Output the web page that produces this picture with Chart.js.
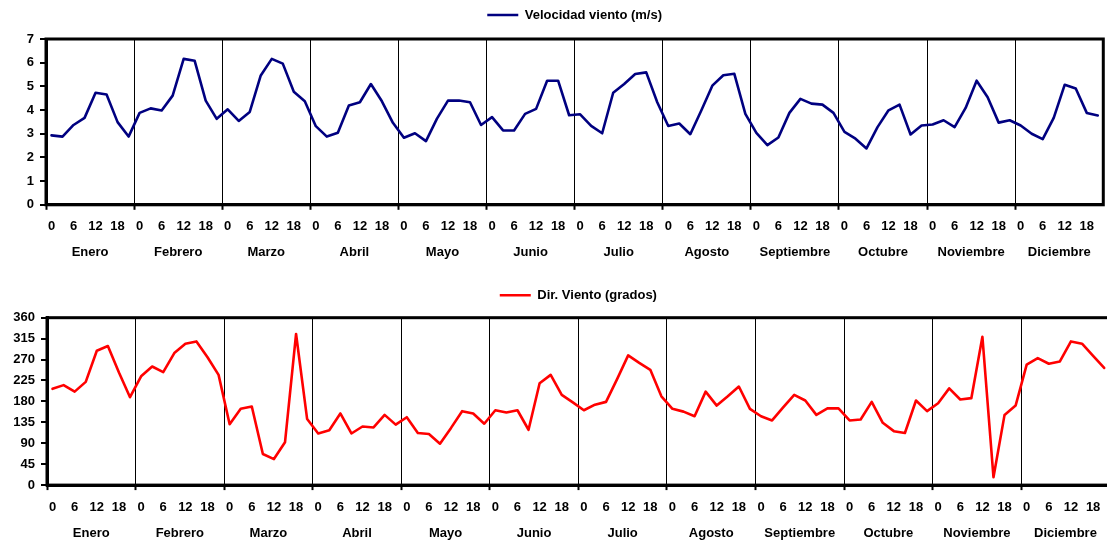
<!DOCTYPE html>
<html>
<head>
<meta charset="utf-8">
<script src="https://cdn.jsdelivr.net/npm/chart.js@4/dist/chart.umd.min.js"></script>
<style>
  html, body { margin: 0; padding: 0; background: #fff; width: 1107px; height: 542px; overflow: hidden; position: relative; }
  #c1 { position: absolute; left: 0; top: 0; }
  #c2 { position: absolute; left: 0; top: 271px; }
</style>
</head>
<body>
<canvas id="c1" width="1107" height="271"></canvas>
<canvas id="c2" width="1114" height="271"></canvas>
<script>
const months = ['Enero','Febrero','Marzo','Abril','Mayo','Junio','Julio','Agosto','Septiembre','Octubre','Noviembre','Diciembre'];
const hours = [0, 3, 6, 9, 12, 15, 18, 21];
const speedTicks = [0, 1, 2, 3, 4, 5, 6, 7];
const dirTicks = [0, 45, 90, 135, 180, 225, 270, 315, 360];
const speedLabel = 'Velocidad viento (m/s)';
const dirLabel = 'Dir. Viento (grados)';

const speed = [
  2.93, 2.88, 3.37, 3.67, 4.73, 4.66, 3.49, 2.88,
  3.88, 4.07, 3.98, 4.61, 6.16, 6.08, 4.40, 3.63,
  4.03, 3.54, 3.92, 5.46, 6.16, 5.96, 4.77, 4.37,
  3.32, 2.88, 3.04, 4.19, 4.33, 5.10, 4.37, 3.46,
  2.83, 3.02, 2.69, 3.64, 4.40, 4.40, 4.33, 3.37,
  3.70, 3.14, 3.14, 3.84, 4.05, 5.24, 5.24, 3.78,
  3.82, 3.33, 3.02, 4.73, 5.10, 5.52, 5.59, 4.33,
  3.33, 3.43, 2.98, 3.98, 5.03, 5.47, 5.53, 3.84,
  3.04, 2.52, 2.84, 3.88, 4.47, 4.27, 4.23, 3.88,
  3.08, 2.79, 2.38, 3.28, 3.99, 4.23, 2.97, 3.35,
  3.39, 3.57, 3.28, 4.09, 5.24, 4.54, 3.47, 3.57,
  3.35, 3.00, 2.77, 3.67, 5.07, 4.91, 3.88, 3.77
];

const direction = [
  207, 215, 201, 222, 289, 299, 242, 189,
  234, 255, 243, 284, 304, 309, 275, 237,
  131, 164, 169, 67, 56, 92, 325, 142,
  111, 118, 154, 111, 126, 124, 151, 130,
  146, 112, 110, 89, 123, 159, 154, 132,
  161, 156, 161, 119, 219, 237, 194, 178,
  161, 173, 179, 228, 279, 263, 248, 191,
  164, 158, 148, 201, 171, 191, 212, 164,
  148, 139, 167, 194, 182, 151, 165, 165,
  139, 141, 179, 134, 116, 112, 182, 159,
  176, 208, 184, 187, 319, 17, 151, 171,
  259, 273, 261, 266, 309, 304, 278, 252
];

const categories = [];
months.forEach(m => hours.forEach(h => categories.push(m + ' ' + h)));

const FONT = { family: '"Liberation Sans", Arial, sans-serif', size: 13, weight: 'bold' };
const perMonth = hours.length;

const framePlugin = {
  id: 'frame',
  afterDraw(chart) {
    const a = chart.chartArea;
    const ctx = chart.ctx;
    ctx.save();
    ctx.strokeStyle = '#000';
    ctx.lineWidth = 3;
    ctx.strokeRect(a.left, a.top, a.right - a.left, a.bottom - a.top);
    ctx.restore();
  }
};

function makeChart(id, label, data, color, ticks, cfg) {
  return new Chart(document.getElementById(id), {
    type: 'line',
    data: {
      labels: categories,
      datasets: [{
        label: label,
        data: data,
        borderColor: color,
        backgroundColor: color,
        borderWidth: 2.6,
        borderJoinStyle: 'round',
        borderCapStyle: 'round',
        pointRadius: 0,
        pointHoverRadius: 0,
        tension: 0,
        fill: false,
        xAxisID: 'x',
        yAxisID: 'y'
      }]
    },
    plugins: [framePlugin],
    options: {
      responsive: false,
      animation: false,
      devicePixelRatio: 1,
      events: [],
      layout: { padding: { left: 0, right: 3, top: cfg.padTop, bottom: cfg.padBottom } },
      plugins: {
        tooltip: { enabled: false },
        title: { display: false },
        subtitle: {
          display: true, text: '', weight: 500,
          font: { size: 1, lineHeight: 1 },
          padding: { top: 0, bottom: cfg.gap }
        },
        legend: {
          display: true,
          position: 'top',
          fullSize: false,
          labels: {
            font: FONT,
            color: '#000',
            usePointStyle: true,
            pointStyle: 'line',
            pointStyleWidth: 31,
            boxHeight: 13,
            padding: 6
          }
        }
      },
      scales: {
        x: {
          type: 'category',
          position: 'bottom',
          offset: true,
          grid: {
            offset: true,
            drawOnChartArea: true,
            drawTicks: true,
            tickLength: 5,
            color: c => (c.index % perMonth === 0 ? '#000' : 'rgba(0,0,0,0)'),
            lineWidth: 1,
            tickColor: c => (c.index % perMonth === 0 ? '#000' : 'rgba(0,0,0,0)'),
            tickWidth: 2
          },
          border: { display: true, color: '#000', width: 3 },
          ticks: {
            autoSkip: false,
            maxRotation: 0,
            minRotation: 0,
            padding: cfg.tickPad,
            color: '#000',
            font: FONT,
            callback: (v, i) => {
              const h = hours[i % perMonth];
              return h % 6 === 0 ? String(h) : '';
            }
          }
        },
        xm: {
          type: 'category',
          position: 'bottom',
          labels: months,
          offset: true,
          grid: { display: false, drawTicks: false },
          border: { display: false },
          ticks: {
            autoSkip: false,
            maxRotation: 0,
            minRotation: 0,
            padding: cfg.monthPad,
            color: '#000',
            font: FONT
          }
        },
        y: {
          min: ticks[0],
          max: ticks[ticks.length - 1],
          afterFit: s => { s.width = cfg.yWidth; },
          grid: {
            drawOnChartArea: false,
            drawTicks: true,
            tickLength: 6,
            color: '#000',
            lineWidth: 2
          },
          border: { display: true, color: '#000', width: 3 },
          ticks: {
            stepSize: ticks[1] - ticks[0],
            padding: 6,
            color: '#000',
            font: FONT
          }
        }
      }
    }
  });
}

makeChart('c1', speedLabel, speed, '#000080', speedTicks,
  { padTop: 2.5, padBottom: 10, gap: 6.5, tickPad: 9.2, monthPad: 0.8, yWidth: 46 });
makeChart('c2', dirLabel, direction, '#FF0000', dirTicks,
  { padTop: 11.8, padBottom: 0.3, gap: 4.9, tickPad: 9.8, monthPad: 0.4, yWidth: 47 });
</script>
</body>
</html>
